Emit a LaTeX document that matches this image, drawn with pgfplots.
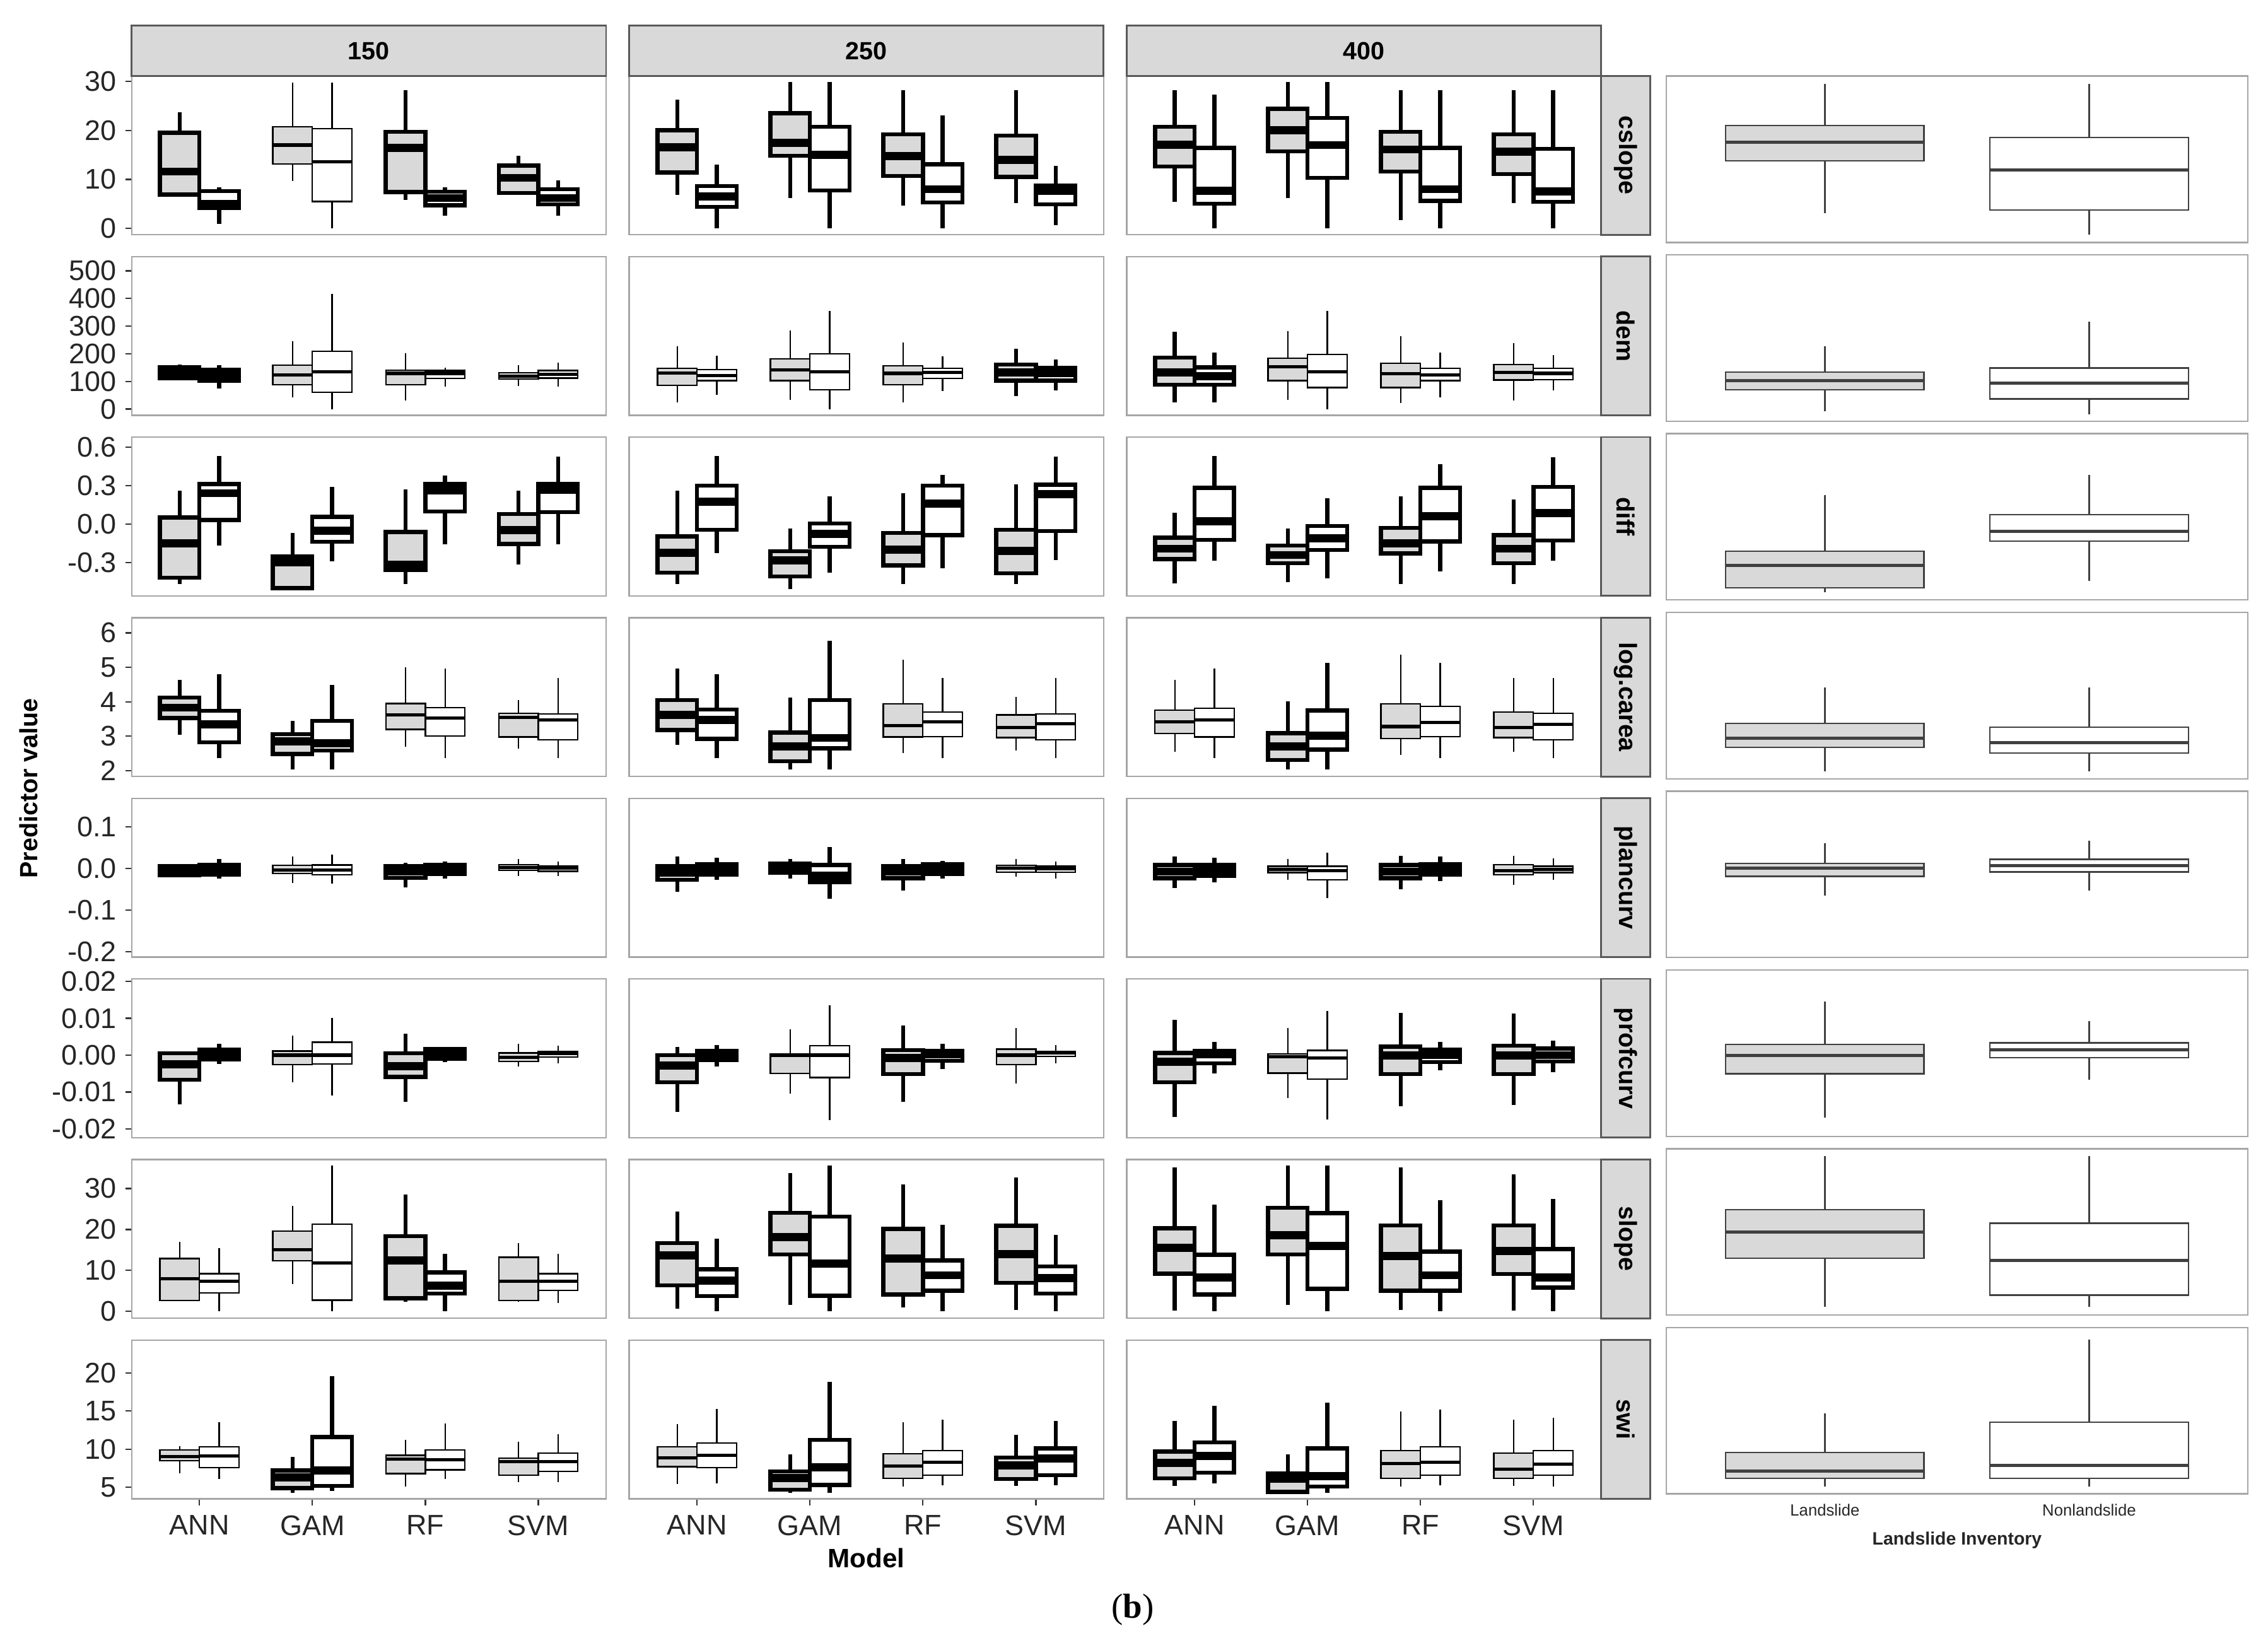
\documentclass[border=0pt]{standalone}
\usepackage{fontspec}
\setmainfont{Liberation Sans}
\newfontfamily\serifb{Liberation Serif}
\usepackage{pgfplots}
\pgfplotsset{compat=1.18}
\usepgfplotslibrary{statistics}

\definecolor{lsg}{HTML}{D9D9D9}
\definecolor{stripg}{HTML}{D9D9D9}

\pgfplotsset{
    panel/.style={
        scale only axis, width=164pt, height=54.9pt, anchor=north west,
        xmin=0.4, xmax=4.6, xtick=\empty, scaled y ticks=false,
        axis line style={gray!70, line width=0.5pt},
        tick align=outside, ytick pos=left, xtick pos=bottom,
        major tick length=2.2pt,
        tick style={black!80, line width=0.5pt},
        tick label style={font=\fontsize{9.8}{11}\selectfont, text=black!85},
        yticklabel style={xshift=0.5pt},
        boxplot/draw direction=y,
        boxplot/box extend=0.35, boxplot/whisker extend=0,
    },
    c23/.style={yticklabels={}, ytick style={draw=none}},
    bot/.style={xtick={1,2,3,4}, xticklabels={ANN,GAM,RF,SVM}},
    rpanel/.style={
        scale only axis, width=201pt, height=57.5pt, anchor=north west,
        xmin=0.4, xmax=2.6, xtick=\empty, scaled y ticks=false,
        yticklabels={}, ytick style={draw=none},
        axis line style={gray!70, line width=0.5pt},
        boxplot/draw direction=y,
        boxplot/box extend=0.75, boxplot/whisker extend=0,
    },
    tn/.style={draw=black, line width=0.5pt, boxplot/every median/.style={line width=1.1pt}},
    tk/.style={draw=black, line width=1.4pt, boxplot/every median/.style={line width=2.8pt}},
    rt/.style={draw=black!75, line width=0.5pt, boxplot/every median/.style={line width=1.1pt}},
    r1/.style={ymin=-1.3, ymax=31.1, ytick={0,10,20,30}, yticklabels={0,10,20,30}},
    r2/.style={ymin=-22.8, ymax=551.7, ytick={0,100,200,300,400,500}, yticklabels={0,100,200,300,400,500}},
    r3/.style={ymin=-0.561, ymax=0.677, ytick={-0.3,0,0.3,0.6}, yticklabels={-0.3,0.0,0.3,0.6}},
    r4/.style={ymin=1.83, ymax=6.44, ytick={2,3,4,5,6}, yticklabels={2,3,4,5,6}},
    r5/.style={ymin=-0.213, ymax=0.168, ytick={-0.2,-0.1,0,0.1}, yticklabels={-0.2,-0.1,0.0,0.1}},
    r6/.style={ymin=-0.0224, ymax=0.0207, ytick={-0.02,-0.01,0,0.01,0.02}, yticklabels={-0.02,-0.01,0.00,0.01,0.02}},
    r7/.style={ymin=-1.7, ymax=37.1, ytick={0,10,20,30}, yticklabels={0,10,20,30}},
    r8/.style={ymin=3.49, ymax=24.3, ytick={5,10,15,20}, yticklabels={5,10,15,20}},
}

% position, fill, weight, lower whisker, lower quartile, median, upper quartile, upper whisker
\newcommand{\bxp}[8]{\addplot[#3, fill=#2, boxplot prepared={draw position=#1,
    lower whisker=#4, lower quartile=#5, median=#6, upper quartile=#7, upper whisker=#8}] coordinates {};}

\begin{document}
\begin{tikzpicture}
\useasboundingbox (0,0) rectangle (784pt,-569.5pt);

% ---------- cslope ----------
\begin{axis}[panel, r1, at={(45.5pt,-26.25pt)}]
\bxp{0.825}{lsg}{tk}{6.8}{6.9}{11.6}{19.5}{23.7}
\bxp{1.175}{white}{tk}{0.9}{4.2}{5.0}{7.6}{8.4}
\bxp{1.825}{lsg}{tn}{9.7}{13.1}{17.0}{20.7}{29.8}
\bxp{2.175}{white}{tn}{0}{5.5}{13.6}{20.3}{29.8}
\bxp{2.825}{lsg}{tk}{5.8}{7.4}{16.4}{19.7}{28.2}
\bxp{3.175}{white}{tk}{2.6}{4.7}{6.2}{7.5}{8.4}
\bxp{3.825}{lsg}{tk}{7.1}{7.2}{10.3}{12.8}{14.8}
\bxp{4.175}{white}{tk}{2.6}{4.9}{6.2}{8.0}{9.8}
\end{axis}
\begin{axis}[panel, r1, c23, at={(217.5pt,-26.25pt)}]
\bxp{0.825}{lsg}{tk}{6.8}{11.4}{16.6}{20.0}{26.3}
\bxp{1.175}{white}{tk}{0}{4.4}{6.5}{8.6}{13.0}
\bxp{1.825}{lsg}{tk}{6.2}{14.8}{17.5}{23.5}{29.8}
\bxp{2.175}{white}{tk}{0}{7.7}{15.0}{20.7}{29.8}
\bxp{2.825}{lsg}{tk}{4.6}{10.7}{14.8}{19.2}{28.2}
\bxp{3.175}{white}{tk}{0}{5.3}{8.0}{13.1}{23.1}
\bxp{3.825}{lsg}{tk}{5.2}{10.5}{14.0}{18.9}{28.2}
\bxp{4.175}{white}{tk}{0.6}{4.9}{7.7}{8.7}{12.7}
\end{axis}
\begin{axis}[panel, r1, c23, at={(389.5pt,-26.25pt)}]
\bxp{0.825}{lsg}{tk}{5.4}{12.6}{17.1}{20.7}{28.2}
\bxp{1.175}{white}{tk}{0}{5.0}{7.7}{16.4}{27.3}
\bxp{1.825}{lsg}{tk}{6.2}{15.7}{20.0}{24.4}{29.8}
\bxp{2.175}{white}{tk}{0}{10.3}{17.0}{22.5}{29.8}
\bxp{2.825}{lsg}{tk}{1.7}{11.6}{16.1}{19.7}{28.2}
\bxp{3.175}{white}{tk}{0}{5.6}{8.0}{16.4}{28.2}
\bxp{3.825}{lsg}{tk}{5.2}{11.1}{15.7}{19.2}{28.2}
\bxp{4.175}{white}{tk}{0}{5.4}{7.5}{16.2}{28.2}
\end{axis}

% ---------- dem ----------
\begin{axis}[panel, r2, at={(45.5pt,-88.675pt)}]
\bxp{0.825}{lsg}{tk}{110}{112}{133}{152}{162}
\bxp{1.175}{white}{tk}{74}{101}{122}{142}{158}
\bxp{1.825}{lsg}{tn}{43}{88}{124}{158}{245}
\bxp{2.175}{white}{tn}{0}{61}{135}{209}{416}
\bxp{2.825}{lsg}{tn}{30}{88}{129}{141}{202}
\bxp{3.175}{white}{tn}{81}{110}{129}{139}{150}
\bxp{3.825}{lsg}{tn}{84}{109}{119}{132}{158}
\bxp{4.175}{white}{tn}{81}{112}{126}{139}{167}
\end{axis}
\begin{axis}[panel, r2, c23, at={(217.5pt,-88.675pt)}]
\bxp{0.825}{lsg}{tn}{25}{86}{131}{148}{227}
\bxp{1.175}{white}{tn}{51}{103}{120}{142}{193}
\bxp{1.825}{lsg}{tn}{34}{103}{141}{181}{284}
\bxp{2.175}{white}{tn}{0}{69}{135}{200}{354}
\bxp{2.825}{lsg}{tn}{23}{88}{129}{156}{240}
\bxp{3.175}{white}{tn}{66}{110}{132}{148}{190}
\bxp{3.825}{lsg}{tk}{46}{103}{133}{161}{217}
\bxp{4.175}{white}{tk}{68}{103}{129}{150}{180}
\end{axis}
\begin{axis}[panel, r2, c23, at={(389.5pt,-88.675pt)}]
\bxp{0.825}{lsg}{tk}{23}{88}{133}{186}{279}
\bxp{1.175}{white}{tk}{23}{88}{118}{151}{205}
\bxp{1.825}{lsg}{tn}{34}{103}{152}{183}{283}
\bxp{2.175}{white}{tn}{0}{78}{135}{198}{354}
\bxp{2.825}{lsg}{tn}{21}{78}{127}{165}{263}
\bxp{3.175}{white}{tn}{43}{103}{124}{148}{205}
\bxp{3.825}{lsg}{tn}{30}{105}{133}{161}{238}
\bxp{4.175}{white}{tn}{68}{107}{129}{148}{196}
\end{axis}

% ---------- diff ----------
\begin{axis}[panel, r3, at={(45.5pt,-151.1pt)}]
\bxp{0.825}{lsg}{tk}{-0.47}{-0.42}{-0.15}{0.05}{0.26}
\bxp{1.175}{white}{tk}{-0.17}{0.03}{0.24}{0.31}{0.53}
\bxp{1.825}{lsg}{tk}{-0.51}{-0.50}{-0.30}{-0.255}{-0.07}
\bxp{2.175}{white}{tk}{-0.29}{-0.14}{-0.054}{0.055}{0.29}
\bxp{2.825}{lsg}{tk}{-0.47}{-0.36}{-0.32}{-0.062}{0.27}
\bxp{3.175}{white}{tk}{-0.157}{0.098}{0.26}{0.31}{0.376}
\bxp{3.825}{lsg}{tk}{-0.316}{-0.157}{-0.046}{0.077}{0.26}
\bxp{4.175}{white}{tk}{-0.157}{0.093}{0.265}{0.314}{0.523}
\end{axis}
\begin{axis}[panel, r3, c23, at={(217.5pt,-151.1pt)}]
\bxp{0.825}{lsg}{tk}{-0.47}{-0.381}{-0.226}{-0.098}{0.26}
\bxp{1.175}{white}{tk}{-0.229}{-0.046}{0.175}{0.30}{0.53}
\bxp{1.825}{lsg}{tk}{-0.507}{-0.409}{-0.283}{-0.213}{-0.038}
\bxp{2.175}{white}{tk}{-0.381}{-0.177}{-0.078}{0.003}{0.216}
\bxp{2.825}{lsg}{tk}{-0.47}{-0.324}{-0.20}{-0.07}{0.24}
\bxp{3.175}{white}{tk}{-0.343}{-0.087}{0.159}{0.30}{0.383}
\bxp{3.825}{lsg}{tk}{-0.47}{-0.386}{-0.21}{-0.046}{0.31}
\bxp{4.175}{white}{tk}{-0.283}{-0.054}{0.232}{0.306}{0.523}
\end{axis}
\begin{axis}[panel, r3, c23, at={(389.5pt,-151.1pt)}]
\bxp{0.825}{lsg}{tk}{-0.463}{-0.275}{-0.193}{-0.106}{0.085}
\bxp{1.175}{white}{tk}{-0.288}{-0.123}{0.02}{0.281}{0.53}
\bxp{1.825}{lsg}{tk}{-0.454}{-0.307}{-0.242}{-0.168}{-0.038}
\bxp{2.175}{white}{tk}{-0.425}{-0.204}{-0.111}{-0.016}{0.2}
\bxp{2.825}{lsg}{tk}{-0.47}{-0.229}{-0.152}{-0.03}{0.216}
\bxp{3.175}{white}{tk}{-0.369}{-0.136}{0.06}{0.281}{0.464}
\bxp{3.825}{lsg}{tk}{-0.47}{-0.307}{-0.193}{-0.087}{0.19}
\bxp{4.175}{white}{tk}{-0.288}{-0.128}{0.085}{0.289}{0.518}
\end{axis}

% ---------- log.carea ----------
\begin{axis}[panel, r4, at={(45.5pt,-213.525pt)}]
\bxp{0.825}{lsg}{tk}{3.04}{3.53}{3.83}{4.12}{4.63}
\bxp{1.175}{white}{tk}{2.37}{2.82}{3.34}{3.74}{4.80}
\bxp{1.825}{lsg}{tk}{2.04}{2.48}{2.85}{3.06}{3.44}
\bxp{2.175}{white}{tk}{2.04}{2.58}{2.79}{3.44}{4.49}
\bxp{2.825}{lsg}{tn}{2.70}{3.20}{3.62}{3.95}{5.01}
\bxp{3.175}{white}{tn}{2.37}{3.01}{3.53}{3.83}{4.96}
\bxp{3.825}{lsg}{tn}{2.64}{2.98}{3.54}{3.66}{4.05}
\bxp{4.175}{white}{tn}{2.37}{2.89}{3.47}{3.65}{4.69}
\end{axis}
\begin{axis}[panel, r4, c23, at={(217.5pt,-213.525pt)}]
\bxp{0.825}{lsg}{tk}{2.75}{3.18}{3.62}{4.05}{4.96}
\bxp{1.175}{white}{tk}{2.37}{2.92}{3.47}{3.77}{4.80}
\bxp{1.825}{lsg}{tk}{2.03}{2.27}{2.70}{3.11}{4.12}
\bxp{2.175}{white}{tk}{2.03}{2.65}{2.95}{4.05}{5.77}
\bxp{2.825}{lsg}{tn}{2.51}{2.98}{3.31}{3.94}{5.22}
\bxp{3.175}{white}{tn}{2.37}{2.99}{3.42}{3.70}{4.69}
\bxp{3.825}{lsg}{tn}{2.58}{2.96}{3.25}{3.62}{4.14}
\bxp{4.175}{white}{tn}{2.37}{2.90}{3.37}{3.65}{4.69}
\end{axis}
\begin{axis}[panel, r4, c23, at={(389.5pt,-213.525pt)}]
\bxp{0.825}{lsg}{tn}{2.55}{3.08}{3.42}{3.75}{4.63}
\bxp{1.175}{white}{tn}{2.37}{2.98}{3.48}{3.81}{4.96}
\bxp{1.825}{lsg}{tk}{2.03}{2.31}{2.70}{3.09}{4.02}
\bxp{2.175}{white}{tk}{2.03}{2.61}{3.01}{3.75}{5.13}
\bxp{2.825}{lsg}{tn}{2.45}{2.93}{3.28}{3.94}{5.36}
\bxp{3.175}{white}{tn}{2.37}{2.99}{3.40}{3.86}{5.13}
\bxp{3.825}{lsg}{tn}{2.55}{2.96}{3.25}{3.70}{4.69}
\bxp{4.175}{white}{tn}{2.37}{2.90}{3.34}{3.66}{4.69}
\end{axis}

% ---------- plancurv ----------
\begin{axis}[panel, r5, at={(45.5pt,-275.95pt)}]
\bxp{0.825}{lsg}{tk}{-0.018}{-0.017}{-0.005}{0.005}{0.008}
\bxp{1.175}{white}{tk}{-0.025}{-0.015}{-0.003}{0.009}{0.022}
\bxp{1.825}{lsg}{tn}{-0.035}{-0.013}{-0.004}{0.007}{0.028}
\bxp{2.175}{white}{tn}{-0.036}{-0.015}{-0.004}{0.008}{0.033}
\bxp{2.825}{lsg}{tk}{-0.046}{-0.023}{-0.008}{0.005}{0.013}
\bxp{3.175}{white}{tk}{-0.024}{-0.013}{-0.003}{0.008}{0.017}
\bxp{3.825}{lsg}{tn}{-0.019}{-0.005}{0.002}{0.009}{0.022}
\bxp{4.175}{white}{tn}{-0.019}{-0.007}{0}{0.005}{0.017}
\end{axis}
\begin{axis}[panel, r5, c23, at={(217.5pt,-275.95pt)}]
\bxp{0.825}{lsg}{tk}{-0.057}{-0.028}{-0.010}{0.005}{0.028}
\bxp{1.175}{white}{tk}{-0.028}{-0.015}{0}{0.010}{0.025}
\bxp{1.825}{lsg}{tk}{-0.025}{-0.011}{0.003}{0.011}{0.022}
\bxp{2.175}{white}{tk}{-0.073}{-0.033}{-0.018}{0.008}{0.051}
\bxp{2.825}{lsg}{tk}{-0.053}{-0.024}{-0.008}{0.005}{0.022}
\bxp{3.175}{white}{tk}{-0.025}{-0.013}{0}{0.010}{0.018}
\bxp{3.825}{lsg}{tn}{-0.020}{-0.009}{0}{0.007}{0.023}
\bxp{4.175}{white}{tn}{-0.024}{-0.009}{-0.001}{0.005}{0.017}
\end{axis}
\begin{axis}[panel, r5, c23, at={(389.5pt,-275.95pt)}]
\bxp{0.825}{lsg}{tk}{-0.048}{-0.024}{-0.008}{0.008}{0.028}
\bxp{1.175}{white}{tk}{-0.034}{-0.018}{-0.004}{0.009}{0.025}
\bxp{1.825}{lsg}{tn}{-0.027}{-0.010}{-0.002}{0.005}{0.022}
\bxp{2.175}{white}{tn}{-0.071}{-0.028}{-0.005}{0.005}{0.037}
\bxp{2.825}{lsg}{tk}{-0.051}{-0.024}{-0.008}{0.008}{0.030}
\bxp{3.175}{white}{tk}{-0.030}{-0.015}{-0.002}{0.010}{0.028}
\bxp{3.825}{lsg}{tn}{-0.039}{-0.015}{-0.005}{0.009}{0.030}
\bxp{4.175}{white}{tn}{-0.028}{-0.010}{-0.002}{0.005}{0.024}
\end{axis}

% ---------- profcurv ----------
\begin{axis}[panel, r6, at={(45.5pt,-338.375pt)}]
\bxp{0.825}{lsg}{tk}{-0.0134}{-0.0067}{-0.0025}{0.0005}{0.0005}
\bxp{1.175}{white}{tk}{-0.0024}{-0.0011}{0.0002}{0.0015}{0.003}
\bxp{1.825}{lsg}{tn}{-0.0073}{-0.0026}{0}{0.0011}{0.0053}
\bxp{2.175}{white}{tn}{-0.0109}{-0.0024}{0}{0.0035}{0.0101}
\bxp{2.825}{lsg}{tk}{-0.0127}{-0.0059}{-0.003}{0.0005}{0.0059}
\bxp{3.175}{white}{tk}{-0.0018}{-0.001}{0.0002}{0.0016}{0.0021}
\bxp{3.825}{lsg}{tn}{-0.0031}{-0.0017}{-0.0006}{0.0006}{0.003}
\bxp{4.175}{white}{tn}{-0.0023}{-0.0005}{0.0005}{0.001}{0.0026}
\end{axis}
\begin{axis}[panel, r6, c23, at={(217.5pt,-338.375pt)}]
\bxp{0.825}{lsg}{tk}{-0.0154}{-0.0074}{-0.0028}{0}{0.0023}
\bxp{1.175}{white}{tk}{-0.003}{-0.0014}{0.0002}{0.0012}{0.0027}
\bxp{1.825}{lsg}{tn}{-0.0105}{-0.005}{-0.0001}{0.0003}{0.007}
\bxp{2.175}{white}{tn}{-0.0177}{-0.0061}{0}{0.0026}{0.0136}
\bxp{2.825}{lsg}{tk}{-0.0127}{-0.0051}{-0.0007}{0.0014}{0.008}
\bxp{3.175}{white}{tk}{-0.0037}{-0.0015}{0.0002}{0.0012}{0.0031}
\bxp{3.825}{lsg}{tn}{-0.0077}{-0.0026}{0}{0.0016}{0.0074}
\bxp{4.175}{white}{tn}{-0.0023}{-0.0004}{0.0006}{0.001}{0.0027}
\end{axis}
\begin{axis}[panel, r6, c23, at={(389.5pt,-338.375pt)}]
\bxp{0.825}{lsg}{tk}{-0.0167}{-0.0074}{-0.0018}{0.0006}{0.0096}
\bxp{1.175}{white}{tk}{-0.005}{-0.0022}{0.0002}{0.0012}{0.0036}
\bxp{1.825}{lsg}{tn}{-0.0117}{-0.0049}{-0.0004}{0.0003}{0.0074}
\bxp{2.175}{white}{tn}{-0.0174}{-0.0065}{-0.0007}{0.0013}{0.012}
\bxp{2.825}{lsg}{tk}{-0.0139}{-0.0051}{-0.0001}{0.0023}{0.0114}
\bxp{3.175}{white}{tk}{-0.0041}{-0.0019}{0}{0.0015}{0.0036}
\bxp{3.825}{lsg}{tk}{-0.0135}{-0.0051}{-0.0001}{0.0026}{0.0113}
\bxp{4.175}{white}{tk}{-0.0047}{-0.0017}{0}{0.0018}{0.0039}
\end{axis}

% ---------- slope ----------
\begin{axis}[panel, r7, at={(45.5pt,-400.8pt)}]
\bxp{0.825}{lsg}{tn}{2.6}{2.6}{7.9}{12.9}{16.9}
\bxp{1.175}{white}{tn}{0}{4.5}{7.3}{9.2}{15.4}
\bxp{1.825}{lsg}{tn}{6.7}{12.4}{15.0}{19.6}{25.7}
\bxp{2.175}{white}{tn}{0}{2.7}{11.8}{21.3}{35.6}
\bxp{2.825}{lsg}{tk}{2.3}{3.2}{12.4}{18.4}{28.6}
\bxp{3.175}{white}{tk}{0}{4.3}{6.3}{9.5}{14.0}
\bxp{3.825}{lsg}{tn}{2.3}{2.6}{7.4}{13.2}{16.7}
\bxp{4.175}{white}{tn}{2.1}{5.1}{7.4}{9.2}{14.0}
\end{axis}
\begin{axis}[panel, r7, c23, at={(217.5pt,-400.8pt)}]
\bxp{0.825}{lsg}{tk}{0.7}{6.3}{13.6}{16.7}{24.3}
\bxp{1.175}{white}{tk}{0}{3.7}{7.5}{10.3}{17.8}
\bxp{1.825}{lsg}{tk}{1.5}{13.9}{18.1}{24.1}{33.7}
\bxp{2.175}{white}{tk}{0}{3.8}{11.7}{23.1}{35.6}
\bxp{2.825}{lsg}{tk}{0.9}{4.1}{12.9}{20.1}{31.0}
\bxp{3.175}{white}{tk}{0}{5.0}{8.8}{12.4}{21.1}
\bxp{3.825}{lsg}{tk}{0.3}{7.0}{14.0}{20.9}{32.7}
\bxp{4.175}{white}{tk}{0}{4.3}{8.1}{11.0}{18.7}
\end{axis}
\begin{axis}[panel, r7, c23, at={(389.5pt,-400.8pt)}]
\bxp{0.825}{lsg}{tk}{0.2}{9.2}{15.5}{20.3}{35.1}
\bxp{1.175}{white}{tk}{0}{4.1}{8.3}{13.8}{26.0}
\bxp{1.825}{lsg}{tk}{1.5}{13.9}{18.6}{25.3}{35.6}
\bxp{2.175}{white}{tk}{0}{5.5}{16.0}{24.0}{35.6}
\bxp{2.825}{lsg}{tk}{0.4}{5.0}{13.5}{21.0}{35.1}
\bxp{3.175}{white}{tk}{0}{5.0}{8.8}{14.6}{27.2}
\bxp{3.825}{lsg}{tk}{0.2}{9.1}{14.7}{21.0}{33.4}
\bxp{4.175}{white}{tk}{0}{5.8}{8.3}{15.2}{27.4}
\end{axis}

% ---------- swi ----------
\begin{axis}[panel, r8, bot, at={(45.5pt,-463.225pt)}]
\bxp{0.825}{lsg}{tn}{6.8}{8.5}{9.0}{9.9}{10.4}
\bxp{1.175}{white}{tn}{6.1}{7.6}{9.1}{10.3}{13.5}
\bxp{1.825}{lsg}{tk}{4.3}{4.9}{6.3}{7.2}{9.0}
\bxp{2.175}{white}{tk}{4.5}{5.2}{7.2}{11.6}{19.6}
\bxp{2.825}{lsg}{tn}{5.1}{6.8}{8.7}{9.2}{11.2}
\bxp{3.175}{white}{tn}{6.1}{7.3}{8.6}{9.9}{13.4}
\bxp{3.825}{lsg}{tn}{5.7}{6.6}{8.4}{8.8}{11.0}
\bxp{4.175}{white}{tn}{5.7}{7.1}{8.4}{9.5}{12.0}
\end{axis}
\begin{axis}[panel, r8, c23, bot, at={(217.5pt,-463.225pt)}]
\bxp{0.825}{lsg}{tn}{5.4}{7.7}{8.9}{10.3}{13.3}
\bxp{1.175}{white}{tn}{5.5}{7.6}{9.2}{10.8}{15.3}
\bxp{1.825}{lsg}{tk}{4.3}{4.7}{6.2}{7.1}{9.3}
\bxp{2.175}{white}{tk}{4.3}{5.3}{7.6}{11.2}{18.8}
\bxp{2.825}{lsg}{tn}{5.1}{6.2}{7.8}{9.4}{13.5}
\bxp{3.175}{white}{tn}{5.3}{6.6}{8.3}{9.8}{13.9}
\bxp{3.825}{lsg}{tk}{5.2}{6.1}{7.9}{8.9}{11.9}
\bxp{4.175}{white}{tk}{5.3}{6.6}{8.8}{10.1}{13.7}
\end{axis}
\begin{axis}[panel, r8, c23, bot, at={(389.5pt,-463.225pt)}]
\bxp{0.825}{lsg}{tk}{5.2}{6.2}{8.2}{9.7}{13.7}
\bxp{1.175}{white}{tk}{5.5}{6.9}{9.1}{10.9}{15.7}
\bxp{1.825}{lsg}{tk}{4.3}{4.4}{6.1}{6.8}{9.3}
\bxp{2.175}{white}{tk}{4.3}{5.1}{6.5}{10.1}{16.1}
\bxp{2.825}{lsg}{tn}{5.1}{6.2}{8.1}{9.8}{14.95}
\bxp{3.175}{white}{tn}{5.3}{6.6}{8.3}{10.3}{15.2}
\bxp{3.825}{lsg}{tn}{5.2}{6.2}{7.4}{9.5}{13.9}
\bxp{4.175}{white}{tn}{5.1}{6.6}{8.0}{9.8}{14.1}
\end{axis}

% ---------- right column: landslide inventory ----------
\begin{axis}[rpanel, ymin=-1.55, ymax=31.5, ytick={0,10,20,30}, at={(576pt,-26.3pt)}]
\bxp{1}{lsg}{rt}{4.3}{14.7}{18.3}{21.7}{30.0}
\bxp{2}{white}{rt}{0}{4.9}{12.8}{19.3}{30.0}
\end{axis}
\begin{axis}[rpanel, ymin=-22.8, ymax=551.7, ytick={0,100,200,300,400,500}, at={(576pt,-88.1pt)}]
\bxp{1}{lsg}{rt}{12}{86}{117}{146}{235}
\bxp{2}{white}{rt}{1}{54}{108}{161}{321}
\end{axis}
\begin{axis}[rpanel, ymin=-0.561, ymax=0.677, ytick={-0.3,0,0.3,0.6}, at={(576pt,-149.9pt)}]
\bxp{1}{lsg}{rt}{-0.503}{-0.471}{-0.305}{-0.197}{0.219}
\bxp{2}{white}{rt}{-0.42}{-0.124}{-0.052}{0.074}{0.370}
\end{axis}
\begin{axis}[rpanel, ymin=1.83, ymax=6.44, ytick={2,3,4,5,6}, at={(576pt,-211.7pt)}]
\bxp{1}{lsg}{rt}{2.03}{2.70}{2.95}{3.37}{4.36}
\bxp{2}{white}{rt}{2.03}{2.54}{2.83}{3.26}{4.36}
\end{axis}
\begin{axis}[rpanel, ymin=-0.213, ymax=0.168, ytick={-0.2,-0.1,0,0.1}, at={(576pt,-273.5pt)}]
\bxp{1}{lsg}{rt}{-0.071}{-0.027}{-0.008}{0.003}{0.049}
\bxp{2}{white}{rt}{-0.059}{-0.017}{-0.002}{0.012}{0.055}
\end{axis}
\begin{axis}[rpanel, ymin=-0.0224, ymax=0.0207, ytick={-0.02,-0.01,0,0.01,0.02}, at={(576pt,-335.3pt)}]
\bxp{1}{lsg}{rt}{-0.0176}{-0.0062}{-0.0015}{0.0014}{0.0126}
\bxp{2}{white}{rt}{-0.0078}{-0.0020}{0.0}{0.0018}{0.0075}
\end{axis}
\begin{axis}[rpanel, ymin=-2.14, ymax=39.9, ytick={0,10,20,30}, at={(576pt,-397.1pt)}]
\bxp{1}{lsg}{rt}{0}{12.2}{18.8}{24.5}{38.0}
\bxp{2}{white}{rt}{0}{2.9}{11.6}{21.1}{38.0}
\end{axis}
\begin{axis}[rpanel, ymin=2.88, ymax=27.8, ytick={5,10,15,20,25}, at={(576pt,-458.9pt)},
    xtick={1,2}, xticklabels={Landslide,Nonlandslide},
    xtick style={draw=none},
    xticklabel style={font=\fontsize{5.6}{6}\selectfont, text=black!85}]
\bxp{1}{lsg}{rt}{4.0}{5.2}{6.27}{9.1}{14.9}
\bxp{2}{white}{rt}{4.0}{5.2}{7.1}{13.6}{26.0}
\end{axis}

% ---------- strips ----------
\foreach \x/\lab in {45.5/150, 217.5/250, 389.5/400} {
  \draw[fill=stripg, draw=black!65, line width=0.6pt] (\x pt,-8.85pt) rectangle ++(164pt,-17.4pt);
  \node[font=\bfseries\fontsize{8.6}{10}\selectfont] at ({(\x+82)*1pt},-17.55pt) {\lab};
}
\foreach \t/\lab in {26.25/cslope, 88.675/dem, 151.1/diff, 213.525/log.carea,
                     275.95/plancurv, 338.375/profcurv, 400.8/slope, 463.225/swi} {
  \draw[fill=stripg, draw=black!65, line width=0.6pt] (553.5pt,{-\t*1pt}) rectangle ++(17pt,-54.9pt);
  \node[rotate=-90, font=\bfseries\fontsize{8.6}{10}\selectfont] at (562pt,{-(\t+27.45)*1pt}) {\lab};
}

% ---------- titles ----------
\node[rotate=90, font=\bfseries\fontsize{8.6}{10}\selectfont] at (10pt,-272.5pt) {Predictor value};
\node[font=\bfseries\fontsize{9.2}{10}\selectfont] at (299.5pt,-538.5pt) {Model};
\node[font=\bfseries\fontsize{6.2}{7}\selectfont, text=black!85] at (676.5pt,-532.5pt) {Landslide Inventory};
\node[font=\serifb\fontsize{12}{14}\selectfont] at (391.5pt,-556.5pt) {(\textbf{b})};
\end{tikzpicture}
\end{document}
